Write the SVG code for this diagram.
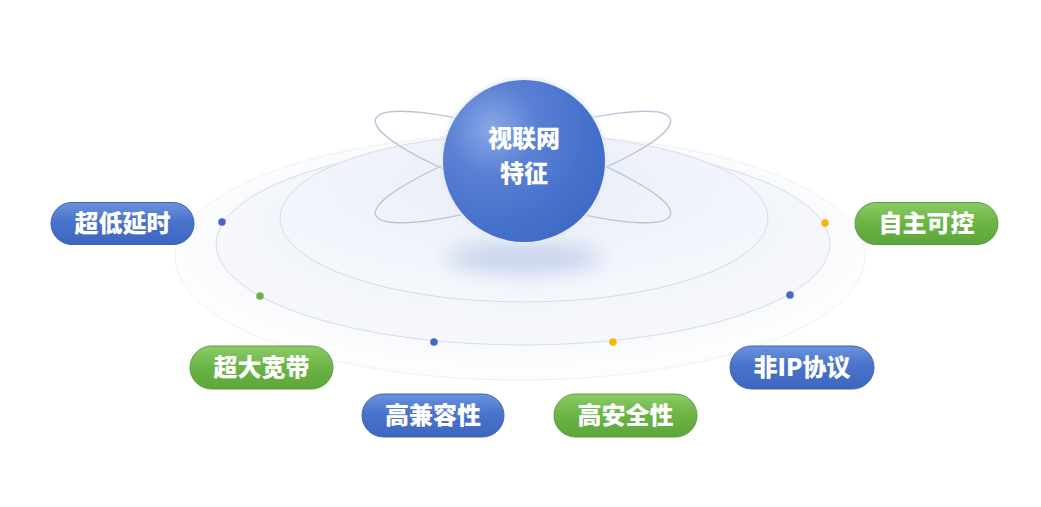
<svg xmlns="http://www.w3.org/2000/svg" width="1041" height="507" viewBox="0 0 1041 507">
<defs>
<style>
.pill-text{font-family:"Noto Sans CJK SC","Liberation Sans",sans-serif;font-weight:900;font-size:24px;fill:#ffffff;text-anchor:middle}
.core-text{font-family:"Noto Sans CJK SC","Liberation Sans",sans-serif;font-weight:900;font-size:24px;fill:#ffffff;text-anchor:middle}
.ring{stroke:#d6dce7;stroke-width:1}
.orbit{fill:none;stroke:#b9c4d8;stroke-width:1.3}
.blue{fill:url(#gBlue);stroke:#3a63b8;stroke-width:1}
.green{fill:url(#gGreen);stroke:#5a9d38;stroke-width:1}
</style>
<linearGradient id="gBlue" x1="0" y1="0" x2="0" y2="1">
<stop offset="0" stop-color="#6a92dc"/>
<stop offset="0.45" stop-color="#4a74cb"/>
<stop offset="1" stop-color="#3c66c0"/>
</linearGradient>
<linearGradient id="gGreen" x1="0" y1="0" x2="0" y2="1">
<stop offset="0" stop-color="#8ccb68"/>
<stop offset="0.45" stop-color="#6cb648"/>
<stop offset="1" stop-color="#5ca63a"/>
</linearGradient>
<radialGradient id="gSphere" cx="0.3" cy="0.3" r="0.8">
<stop offset="0" stop-color="#8aa8e5"/>
<stop offset="0.35" stop-color="#5a80d4"/>
<stop offset="0.75" stop-color="#4570cb"/>
<stop offset="1" stop-color="#3f6ac6"/>
</radialGradient>
<radialGradient id="gOuter" cx="0.5" cy="0.45" r="0.5">
<stop offset="0" stop-color="#eff3fa"/>
<stop offset="0.8" stop-color="#f7f9fc"/>
<stop offset="1" stop-color="#fcfdfe"/>
</radialGradient>
<radialGradient id="gMid" cx="0.5" cy="0.4" r="0.5">
<stop offset="0" stop-color="#ebf0f9"/>
<stop offset="1" stop-color="#f5f7fc"/>
</radialGradient>
<radialGradient id="gInner" cx="0.5" cy="0.3" r="0.6">
<stop offset="0" stop-color="#e8edf8"/>
<stop offset="1" stop-color="#f4f7fc"/>
</radialGradient>
<filter id="blur" x="-50%" y="-100%" width="200%" height="300%">
<feGaussianBlur stdDeviation="10"/>
</filter>
<filter id="glow" x="-20%" y="-20%" width="140%" height="140%">
<feGaussianBlur stdDeviation="2"/>
</filter>
</defs>
<rect width="1041" height="507" fill="#ffffff"/>

<g id="platform">
<ellipse cx="520" cy="257" rx="345" ry="123" fill="url(#gOuter)" stroke="#eef1f6" stroke-width="1"/>
<ellipse cx="523" cy="244" rx="307" ry="101" fill="url(#gMid)" class="ring"/>
<ellipse cx="524" cy="218" rx="244" ry="84" fill="url(#gInner)" class="ring"/>
<ellipse cx="524" cy="258" rx="78" ry="16" fill="#c9d4ec" filter="url(#blur)"/>
</g>

<g id="orbits">
<ellipse cx="523" cy="167" rx="155" ry="30" transform="rotate(18 523 167)" class="orbit"/>
<ellipse cx="523" cy="167" rx="155" ry="30" transform="rotate(-18 523 167)" class="orbit"/>
</g>

<g id="core">
<circle cx="524" cy="161" r="83" fill="#e4ebf8" filter="url(#glow)"/>
<circle cx="524" cy="161" r="81" fill="url(#gSphere)"/>
<text class="core-text"><tspan x="524" y="147">视联网</tspan><tspan x="524" y="182">特征</tspan></text>
</g>

<g id="connectors">
<circle cx="222" cy="222" r="3.8" fill="#4468c4"/>
<circle cx="260" cy="296" r="3.8" fill="#6ab344"/>
<circle cx="434" cy="342" r="3.8" fill="#4468c4"/>
<circle cx="613" cy="342" r="3.8" fill="#f5b50a"/>
<circle cx="790" cy="295" r="3.8" fill="#4468c4"/>
<circle cx="825" cy="223" r="3.8" fill="#f5b50a"/>
</g>

<g id="n1">
<rect class="blue" x="51" y="202.5" width="143" height="42" rx="21"/>
<text class="pill-text" x="122.5" y="232">超低延时</text>
</g>
<g id="n2">
<rect class="green" x="855" y="202.5" width="143" height="42" rx="21"/>
<text class="pill-text" x="926.5" y="232">自主可控</text>
</g>
<g id="n3">
<rect class="green" x="190" y="346" width="143" height="43" rx="21.5"/>
<text class="pill-text" x="261.5" y="376">超大宽带</text>
</g>
<g id="n4">
<rect class="blue" x="730" y="346" width="144" height="43" rx="21.5"/>
<text class="pill-text" x="802" y="376">非IP协议</text>
</g>
<g id="n5">
<rect class="blue" x="362" y="394" width="142" height="43" rx="21.5"/>
<text class="pill-text" x="433" y="424">高兼容性</text>
</g>
<g id="n6">
<rect class="green" x="554" y="394" width="143" height="43" rx="21.5"/>
<text class="pill-text" x="625.5" y="424">高安全性</text>
</g>
</svg>
